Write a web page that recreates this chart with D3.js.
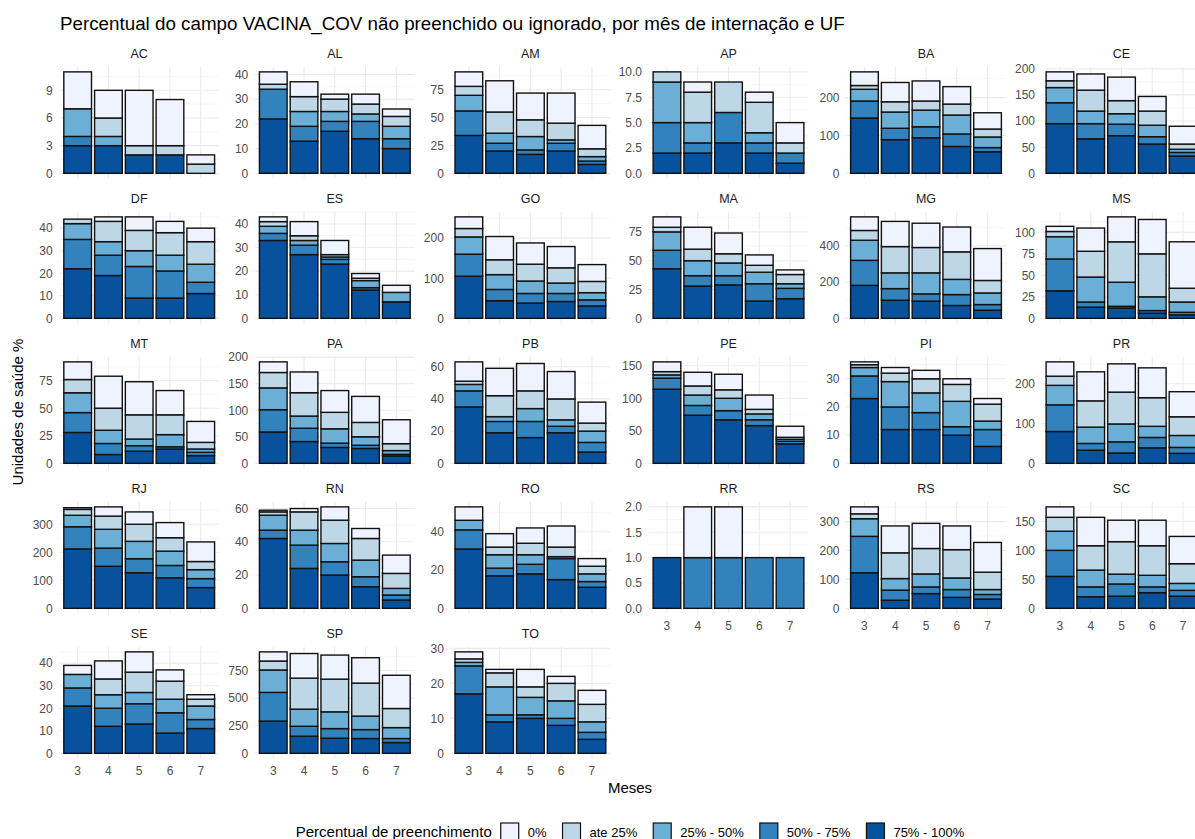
<!DOCTYPE html>
<html>
<head>
<meta charset="utf-8">
<script src="https://cdn.jsdelivr.net/npm/d3@7"></script>
<style>
body { margin: 0; background: #fff; }
svg { font-family: "Liberation Sans", Arial, sans-serif; display: block; }
</style>
</head>
<body>
<div id="chart"></div>
<script>
// UFs na ordem dos paineis
var ufs = ["AC","AL","AM","AP","BA","CE","DF","ES","GO","MA","MG","MS","MT","PA",
           "PB","PE","PI","PR","RJ","RN","RO","RR","RS","SC","SE","SP","TO"];
var meses = [3, 4, 5, 6, 7];

// ordem de empilhamento (de baixo para cima)
var categorias = ["75% - 100%", "50% - 75%", "25% - 50%", "ate 25%", "0%"];
var cores = ["#08519C", "#3182BD", "#6BAED6", "#BDD7E7", "#EFF3FF"];
var legendaOrdem = ["0%", "ate 25%", "25% - 50%", "50% - 75%", "75% - 100%"];

// valores por UF (linhas) e mes 3..7 (colunas)
var cat75_100 = [[3,3,2,2,0],[22,13,17,14,10],[34,20,17,20,8],[2,2,3,2,1],[146,89,94,71,57],
  [95,66,72,56,33],[22,19,9,9,11],[33,27,23,12,7],[105,44,38,42,31],[43,28,29,15,17],
  [182,100,95,71,45],[32,13,12,6,4],[28,8,11,13,7],[59,41,30,28,14],[35,19,16,19,7],
  [114,74,67,58,30],[23,12,12,10,6],[80,33,26,39,25],[212,150,127,109,74],[42,24,20,13,5],
  [31,17,18,15,11],[1,0,0,0,0],[123,28,51,38,32],[55,20,21,27,21],[21,12,13,9,11],
  [292,155,137,134,98],[17,9,10,8,4]];
var cat50_75 = [[1,0,0,0,0],[12,6,4,7,4],[22,7,4,7,3],[3,1,3,1,1],[45,30,29,33,11],
  [40,29,22,14,7],[13,9,14,12,5],[3,4,2,1,0],[55,28,24,20,15],[16,9,8,15,9],
  [138,64,40,60,31],[37,6,2,3,3],[18,10,5,2,3],[42,25,8,6,3],[10,7,10,4,6],
  [17,15,14,9,4],[8,8,6,3,6],[67,17,28,26,15],[79,65,50,44,32],[5,14,8,6,3],
  [10,4,5,11,3],[0,1,1,1,1],[126,35,23,27,16],[45,17,21,10,10],[8,8,9,9,4],
  [260,90,87,81,36],[8,2,1,2,2]];
var cat25_50 = [[3,1,0,0,0],[0,6,4,3,5],[14,9,12,3,4],[4,2,0,1,0],[31,43,44,50,28],
  [29,24,20,22,6],[7,6,7,7,8],[3,2,1,3,4],[43,37,31,26,18],[16,13,11,10,4],
  [111,87,116,84,64],[26,29,28,16,12],[18,12,6,11,3],[41,23,27,16,7],[4,3,8,4,7],
  [5,16,19,9,3],[3,9,7,9,3],[49,41,45,28,30],[41,67,62,51,32],[9,9,11,10,4],
  [5,7,5,1,4],[0,0,0,0,0],[61,40,45,40,17],[33,29,17,20,12],[6,6,5,6,6],
  [203,155,152,122,99],[1,8,5,5,3]];
var catAte25 = [[0,2,1,1,1],[2,6,5,4,4],[8,19,15,15,7],[1,3,3,3,1],[10,27,24,29,21],
  [13,40,25,27,10],[2,9,9,10,10],[2,2,1,1,0],[21,37,42,38,28],[4,10,8,6,8],
  [54,145,140,152,69],[6,30,47,50,16],[12,20,22,18,6],[29,44,31,27,13],[2,13,11,13,5],
  [5,14,13,7,3],[1,3,5,6,6],[23,66,80,72,47],[21,47,61,48,29],[2,11,14,13,9],
  [0,4,6,5,4],[0,0,0,0,0],[17,89,88,98,60],[24,42,56,51,34],[0,7,9,8,3],
  [81,281,296,299,173],[1,4,3,5,5]];
var cat0 = [[4,3,6,5,1],[5,6,2,4,3],[13,28,24,27,21],[0,1,0,1,2],[36,51,53,46,43],
  [17,31,45,28,34],[0,2,6,5,6],[2,6,6,2,3],[29,58,53,53,42],[9,19,18,9,4],
  [75,139,134,137,176],[6,27,29,40,54],[16,29,30,22,19],[20,39,41,49,45],[12,17,17,17,13],
  [15,21,24,22,17],[1,2,3,2,2],[36,73,71,75,63],[6,33,44,54,70],[1,2,8,6,11],
  [7,7,8,11,4],[0,1,1,0,0],[24,93,87,82,103],[18,49,37,44,47],[4,8,9,5,2],
  [83,223,218,230,301],[2,1,5,2,4]];

// marcas do eixo y de cada painel
var ticksY = [[0,3,6,9],[0,10,20,30,40],[0,25,50,75],[0,2.5,5,7.5,10],[0,100,200],
  [0,50,100,150,200],[0,10,20,30,40],[0,10,20,30,40],[0,100,200],[0,25,50,75],
  [0,200,400],[0,25,50,75,100],[0,25,50,75],[0,50,100,150,200],[0,20,40,60],
  [0,50,100,150],[0,10,20,30],[0,100,200],[0,100,200,300],[0,20,40,60],
  [0,20,40],[0,0.5,1,1.5,2],[0,100,200,300],[0,50,100,150],[0,10,20,30,40],
  [0,250,500,750],[0,10,20,30]];

function init() {

    var w = 1195;
    var h = 839;

    var series = [cat75_100, cat50_75, cat25_50, catAte25, cat0];

    // posicoes dos paineis
    var colLeft = [59.2, 254.8, 450.4, 648.5, 846, 1041.5];
    var panelW = 160;
    var panelH = 111.6;
    var rowTop0 = 66.8;
    var rowStep = 145;

    var svg = d3.select("#chart")
                .append("svg")
                .attr("width", w)
                .attr("height", h);

    svg.append("text")
        .attr("x", 60)
        .attr("y", 30)
        .style("font-size", "18.8px")
        .style("fill", "#000")
        .text("Percentual do campo VACINA_COV não preenchido ou ignorado, por mês de internação e UF");

    var stack = d3.stack().keys(categorias);

    ufs.forEach(function(uf, i) {
        var row = Math.floor(i / 6);
        var col = i % 6;

        // tabela do painel: uma linha por mes
        var tabela = meses.map(function(m, j) {
            var linha = { mes: m };
            categorias.forEach(function(c, k) { linha[c] = series[k][i][j]; });
            return linha;
        });
        var camadas = stack(tabela);
        var maxTotal = d3.max(tabela, function(d) {
            return d3.sum(categorias, function(c) { return d[c]; });
        });

        var y = d3.scaleLinear()
                  .domain([-0.05 * maxTotal, 1.05 * maxTotal])
                  .range([panelH, 0]);
        var x = d3.scaleBand()
                  .domain(meses)
                  .range([0, panelW])
                  .paddingInner(0.1)
                  .paddingOuter(0.15);

        var g = svg.append("g")
                   .attr("transform", "translate(" + colLeft[col] + "," + (rowTop0 + rowStep * row) + ")");

        // grade menor
        var t = ticksY[i];
        var passo = t[1] - t[0];
        var menores = [];
        for (var v = t[0] - passo / 2; v <= y.domain()[1]; v += passo) {
            if (v >= y.domain()[0]) menores.push(v);
        }
        g.selectAll("line.menor")
            .data(menores)
            .enter()
            .append("line")
            .attr("x1", 0).attr("x2", panelW)
            .attr("y1", function(d) { return y(d); })
            .attr("y2", function(d) { return y(d); })
            .style("stroke", "#f0f0f0")
            .style("stroke-width", 0.6);

        // grade principal
        g.selectAll("line.maior")
            .data(t)
            .enter()
            .append("line")
            .attr("x1", 0).attr("x2", panelW)
            .attr("y1", function(d) { return y(d); })
            .attr("y2", function(d) { return y(d); })
            .style("stroke", "#ebebeb")
            .style("stroke-width", 1.1);

        g.selectAll("line.vert")
            .data(meses)
            .enter()
            .append("line")
            .attr("x1", function(d) { return x(d) + x.bandwidth() / 2; })
            .attr("x2", function(d) { return x(d) + x.bandwidth() / 2; })
            .attr("y1", 0).attr("y2", panelH)
            .style("stroke", "#ebebeb")
            .style("stroke-width", 1.1);

        // barras empilhadas
        camadas.forEach(function(camada, k) {
            g.selectAll("rect.c" + k)
                .data(camada.filter(function(d) { return d[1] > d[0]; }))
                .enter()
                .append("rect")
                .attr("x", function(d) { return x(d.data.mes); })
                .attr("width", x.bandwidth())
                .attr("y", function(d) { return y(d[1]); })
                .attr("height", function(d) { return y(d[0]) - y(d[1]); })
                .style("fill", cores[k])
                .style("stroke", "#111")
                .style("stroke-width", 1.4);
        });

        // eixo y
        var fmt = t.some(function(d) { return d % 1 !== 0; }) ? d3.format(".1f") : d3.format("d");
        var eixoY = g.append("g")
            .call(d3.axisLeft(y).tickValues(t).tickSize(0).tickPadding(6.5).tickFormat(fmt));
        eixoY.select(".domain").remove();
        eixoY.selectAll("text")
            .style("font-family", "Liberation Sans, Arial, sans-serif")
            .style("font-size", "12px")
            .style("fill", "#4d4d4d");

        // eixo x so onde nao ha painel abaixo
        if (i + 6 >= ufs.length) {
            var eixoX = g.append("g")
                .attr("transform", "translate(0," + panelH + ")")
                .call(d3.axisBottom(x).tickSize(0).tickPadding(8));
            eixoX.select(".domain").remove();
            eixoX.selectAll("text")
                .style("font-family", "Liberation Sans, Arial, sans-serif")
                .style("font-size", "12px")
                .style("fill", "#4d4d4d");
        }

        // titulo do painel
        g.append("text")
            .attr("x", panelW / 2)
            .attr("y", -8.5)
            .attr("text-anchor", "middle")
            .style("font-size", "12.5px")
            .style("fill", "#1a1a1a")
            .text(uf);
    });

    // titulos dos eixos
    svg.append("text")
        .attr("x", 630)
        .attr("y", 793)
        .attr("text-anchor", "middle")
        .style("font-size", "15px")
        .text("Meses");

    svg.append("text")
        .attr("transform", "translate(23,412) rotate(-90)")
        .attr("text-anchor", "middle")
        .style("font-size", "15px")
        .text("Unidades de saúde %");

    // legenda
    var leg = svg.append("g");
    var lx = 0;
    var legTit = leg.append("text")
        .attr("x", lx)
        .attr("y", 837)
        .style("font-size", "15px")
        .text("Percentual de preenchimento");
    lx += legTit.node().getComputedTextLength() + 9;

    legendaOrdem.forEach(function(nome) {
        var k = categorias.indexOf(nome);
        leg.append("rect")
            .attr("x", lx)
            .attr("y", 823)
            .attr("width", 18)
            .attr("height", 18)
            .style("fill", cores[k])
            .style("stroke", "#111")
            .style("stroke-width", 1.2);
        lx += 18 + 9;
        var tx = leg.append("text")
            .attr("x", lx)
            .attr("y", 836.5)
            .style("font-size", "13px")
            .text(nome);
        lx += tx.node().getComputedTextLength() + 16;
    });
    lx -= 16;
    leg.attr("transform", "translate(" + (630 - lx / 2) + ",0)");
}

window.onload = init;
</script>
</body>
</html>
